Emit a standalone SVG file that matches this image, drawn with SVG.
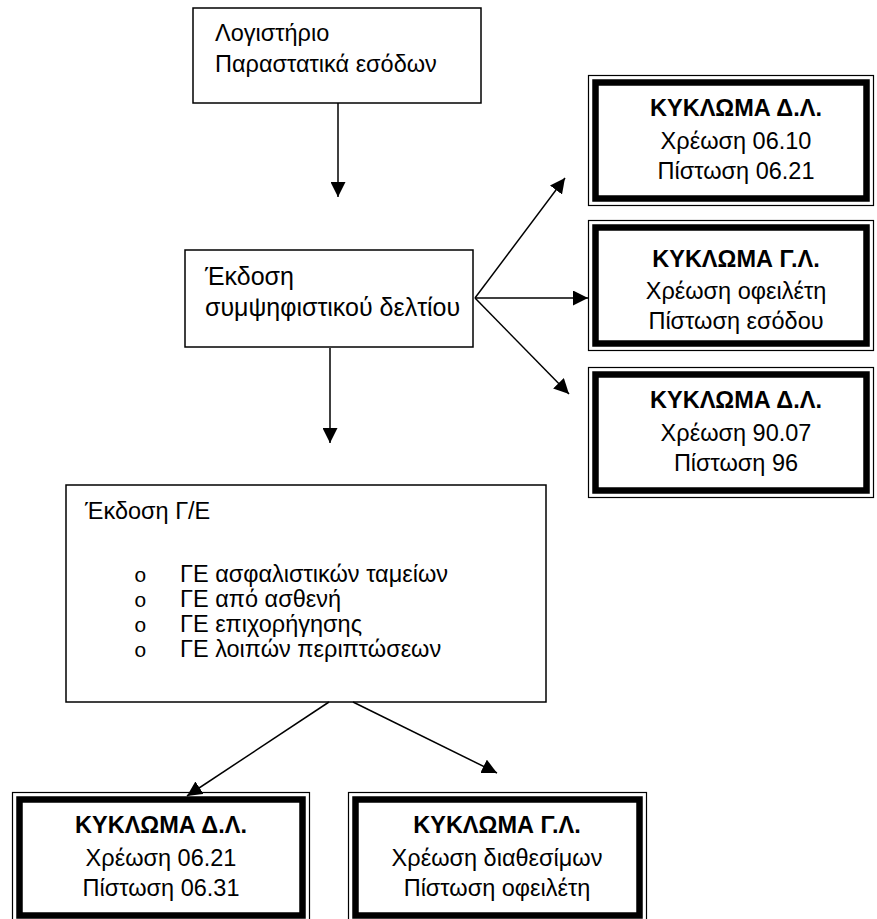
<svg xmlns="http://www.w3.org/2000/svg" width="877" height="919" viewBox="0 0 877 919">
  <style>
    text { font-family: "Liberation Sans", Arial, sans-serif; font-size: 23.5px; fill: #000; }
    .b { font-weight: bold; }
    .c { text-anchor: middle; }
    .big { font-size: 25px; }
    .bul { font-family: "Liberation Mono", "Courier New", monospace; font-size: 21px; }
    .box { fill: #fff; stroke: #000; stroke-width: 1.5; }
    .outer { fill: #fff; stroke: #000; stroke-width: 1.2; }
    .thick { fill: none; stroke: #000; stroke-width: 6.5; }
    .conn line { stroke: #000; stroke-width: 1.5; marker-end: url(#arrow); }
  </style>
  <defs>
    <marker id="arrow" markerUnits="userSpaceOnUse" markerWidth="16" markerHeight="15" refX="15" refY="7.5" orient="auto">
      <path d="M0,0 L15,7.5 L0,15 Z" fill="#000"/>
    </marker>
  </defs>

  <rect width="877" height="919" fill="#fff"/>

  <!-- Λογιστήριο -->
  <g id="n-logistirio">
    <rect class="box" x="193" y="8" width="288" height="95"/>
    <text x="215" y="41">Λογιστήριο</text>
    <text x="215" y="72">Παραστατικά εσόδων</text>
  </g>

  <!-- Έκδοση συμψηφιστικού δελτίου -->
  <g id="n-symps">
    <rect class="box" x="185" y="250" width="288" height="97"/>
    <text class="big" x="205" y="285">Έκδοση</text>
    <text class="big" x="205" y="316">συμψηφιστικού δελτίου</text>
  </g>

  <!-- Κύκλωμα Δ.Λ. 06.10 / 06.21 -->
  <g id="n-dl-1">
    <rect class="outer" x="588.5" y="75.5" width="285" height="130"/>
    <rect class="thick" x="595.5" y="82.5" width="271" height="116"/>
    <text class="b c" x="736" y="116">ΚΥΚΛΩΜΑ Δ.Λ.</text>
    <text class="c" x="736" y="149">Χρέωση 06.10</text>
    <text class="c" x="736" y="179">Πίστωση 06.21</text>
  </g>

  <!-- Κύκλωμα Γ.Λ. οφειλέτη / εσόδου -->
  <g id="n-gl-1">
    <rect class="outer" x="588.5" y="220.5" width="285" height="130"/>
    <rect class="thick" x="595.5" y="227.5" width="271" height="116"/>
    <text class="b c" x="736" y="267">ΚΥΚΛΩΜΑ Γ.Λ.</text>
    <text class="c" x="736" y="299">Χρέωση οφειλέτη</text>
    <text class="c" x="736" y="329">Πίστωση εσόδου</text>
  </g>

  <!-- Κύκλωμα Δ.Λ. 90.07 / 96 -->
  <g id="n-dl-2">
    <rect class="outer" x="588.5" y="367.5" width="285" height="130"/>
    <rect class="thick" x="595.5" y="374.5" width="271" height="116"/>
    <text class="b c" x="736" y="408">ΚΥΚΛΩΜΑ Δ.Λ.</text>
    <text class="c" x="736" y="441">Χρέωση 90.07</text>
    <text class="c" x="736" y="471">Πίστωση 96</text>
  </g>

  <!-- Έκδοση Γ/Ε -->
  <g id="n-ge">
    <rect class="box" x="66" y="485" width="480" height="217"/>
    <text x="85" y="519">Έκδοση Γ/Ε</text>
    <text class="bul" x="134" y="582">o</text>
    <text class="bul" x="134" y="607">o</text>
    <text class="bul" x="134" y="632">o</text>
    <text class="bul" x="134" y="657">o</text>
    <text x="180" y="582">ΓΕ ασφαλιστικών ταμείων</text>
    <text x="180" y="607">ΓΕ από ασθενή</text>
    <text x="180" y="632">ΓΕ επιχορήγησης</text>
    <text x="180" y="657">ΓΕ λοιπών περιπτώσεων</text>
  </g>

  <!-- Κύκλωμα Δ.Λ. 06.21 / 06.31 -->
  <g id="n-dl-3">
    <rect class="outer" x="12.5" y="792.5" width="297" height="130"/>
    <rect class="thick" x="19.5" y="799.5" width="283" height="116"/>
    <text class="b c" x="161" y="833">ΚΥΚΛΩΜΑ Δ.Λ.</text>
    <text class="c" x="161" y="866">Χρέωση 06.21</text>
    <text class="c" x="161" y="896">Πίστωση 06.31</text>
  </g>

  <!-- Κύκλωμα Γ.Λ. διαθεσίμων / οφειλέτη -->
  <g id="n-gl-2">
    <rect class="outer" x="348.5" y="792.5" width="298" height="130"/>
    <rect class="thick" x="355.5" y="799.5" width="284" height="116"/>
    <text class="b c" x="497" y="833">ΚΥΚΛΩΜΑ Γ.Λ.</text>
    <text class="c" x="497" y="866">Χρέωση διαθεσίμων</text>
    <text class="c" x="497" y="896">Πίστωση οφειλέτη</text>
  </g>

  <!-- connectors -->
  <g id="connectors" class="conn">
    <line x1="338" y1="103" x2="338" y2="197"/>
    <line x1="330" y1="348" x2="330" y2="443"/>
    <line x1="475" y1="298" x2="565" y2="178"/>
    <line x1="475" y1="298" x2="588" y2="298"/>
    <line x1="475" y1="298" x2="569" y2="394"/>
    <line x1="329" y1="702" x2="187" y2="796"/>
    <line x1="353" y1="702" x2="497" y2="773"/>
  </g>
</svg>
